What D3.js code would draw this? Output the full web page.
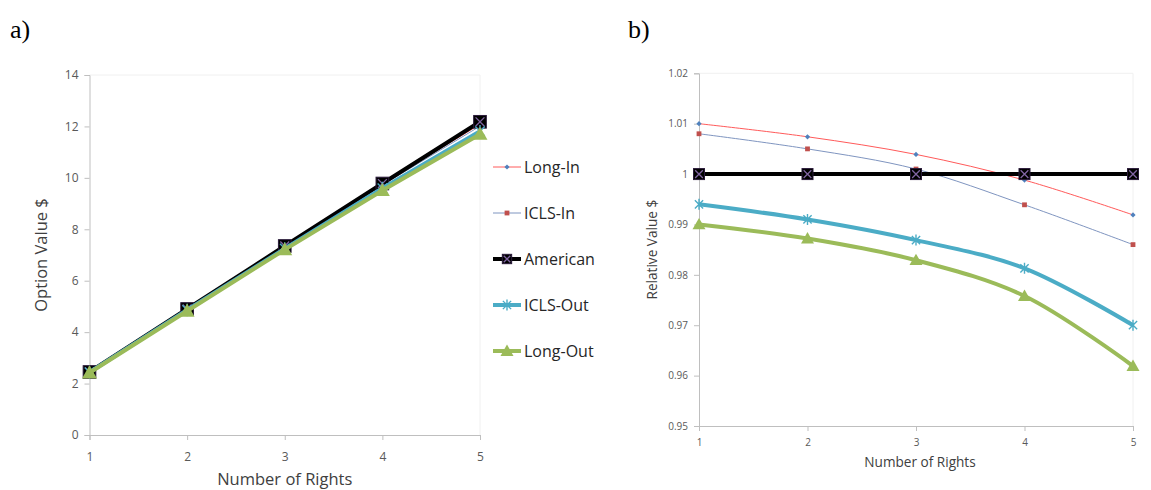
<!DOCTYPE html>
<html>
<head>
<meta charset="utf-8">
<script src="https://cdn.jsdelivr.net/npm/d3@7"></script>
<style>
  body { margin: 0; background: #fff; }
  svg { display: block; }
  text { font-family: "Open Sans", "Liberation Sans", sans-serif; }
</style>
</head>
<body>
<svg id="chart" width="1151" height="490"></svg>
<script>
// Number of exercise rights
const rights = [1, 2, 3, 4, 5];

// a) Option value ($)
const valLongIn   = [2.47, 4.94, 7.38, 9.77, 12.08];
const valIclsIn   = [2.47, 4.92, 7.36, 9.72, 12.01];
const valAmerican = [2.45, 4.90, 7.35, 9.78, 12.18];
const valIclsOut  = [2.44, 4.86, 7.25, 9.60, 11.81];
const valLongOut  = [2.42, 4.82, 7.21, 9.51, 11.70];

// b) Value relative to the American option
const relLongIn   = [1.010, 1.0074, 1.0039, 0.9988, 0.9919];
const relIclsIn   = [1.008, 1.0050, 1.0010, 0.9939, 0.9860];
const relAmerican = [1.000, 1.000, 1.000, 1.000, 1.000];
const relIclsOut  = [0.994, 0.991, 0.9869, 0.9813, 0.970];
const relLongOut  = [0.990, 0.9872, 0.9829, 0.9758, 0.9619];

const seriesNames = ["Long-In", "ICLS-In", "American", "ICLS-Out", "Long-Out"];
const ticksA = [0, 2, 4, 6, 8, 10, 12, 14];
const ticksB = [0.95, 0.96, 0.97, 0.98, 0.99, 1, 1.01, 1.02];
const tickLabelsB = ["0.95", "0.96", "0.97", "0.98", "0.99", "1", "1.01", "1.02"];

const styles = {
  "Long-In":  { line: "#ff5a5a", width: 1, marker: "diamond", mfill: "#4f81bd" },
  "ICLS-In":  { line: "#7f95c0", width: 1, marker: "square",  mfill: "#c0504d" },
  "American": { line: "#000000", width: 4, marker: "boxx",    mfill: "#000000" },
  "ICLS-Out": { line: "#4bacc6", width: 4, marker: "star",    mfill: "#4bacc6" },
  "Long-Out": { line: "#9bbb59", width: 4, marker: "triangle",mfill: "#9bbb59" }
};

const svg = d3.select("#chart");

function drawMarker(g, type, x, y, s, scale) {
  const k = scale || 1;
  if (type === "diamond") {
    const r = 2.6 * k;
    g.append("path").attr("d", `M${x},${y - r}L${x + r},${y}L${x},${y + r}L${x - r},${y}Z`)
      .attr("fill", s.mfill);
  } else if (type === "square") {
    const r = 2.4 * k;
    g.append("rect").attr("x", x - r).attr("y", y - r).attr("width", 2 * r).attr("height", 2 * r)
      .attr("fill", s.mfill);
  } else if (type === "boxx") {
    const r = 5.5 * k;
    g.append("rect").attr("x", x - r).attr("y", y - r).attr("width", 2 * r).attr("height", 2 * r)
      .attr("fill", "#000").attr("stroke", "#2a1a3a").attr("stroke-width", 1);
    const q = r * 0.7;
    g.append("path").attr("d", `M${x - q},${y - q}L${x + q},${y + q}M${x + q},${y - q}L${x - q},${y + q}`)
      .attr("stroke", "#8064a2").attr("stroke-width", 1.3);
  } else if (type === "star") {
    const r = 5.5 * k;
    const q = r * 0.75;
    g.append("path").attr("d",
      `M${x},${y - r}L${x},${y + r}M${x - q},${y - q}L${x + q},${y + q}M${x + q},${y - q}L${x - q},${y + q}`)
      .attr("stroke", s.mfill).attr("stroke-width", 1.4).attr("fill", "none");
  } else if (type === "triangle") {
    const r = 6.5 * k;
    g.append("path").attr("d", `M${x},${y - r}L${x + r},${y + r * 0.75}L${x - r},${y + r * 0.75}Z`)
      .attr("fill", s.mfill);
  }
}

function panel(opts) {
  const { x0, x1, y0, y1, domain, ticks, tickLabels, data, curve, fontSize, yTitle, xTitle,
          yTitleX, xTitleY, xTitleShift, tickLabelY, markerScale } = opts;
  const g = svg.append("g");
  const x = d3.scaleLinear().domain([1, 5]).range([x0, x1]);
  const y = d3.scaleLinear().domain(domain).range([y1, y0]);

  // faint plot-area frame
  g.append("path").attr("d", `M${x0},${y0}H${x1}V${y1}`)
    .attr("fill", "none").attr("stroke", "#f0f0f0").attr("stroke-width", 1);

  // y axis
  const ya = d3.axisLeft(y).tickValues(ticks).tickSize(5).tickPadding(6)
    .tickFormat((d, i) => tickLabels ? tickLabels[i] : d);
  const yg = g.append("g").attr("transform", `translate(${x0},0)`).call(ya);
  yg.select(".domain").attr("stroke", "#bfbfbf");
  yg.selectAll(".tick line").attr("stroke", "#bfbfbf");
  yg.selectAll(".tick text").attr("fill", "#595959").style("font-size", fontSize + "px")
    .style("font-family", '"Open Sans", sans-serif');

  // x axis
  const xa = d3.axisBottom(x).tickValues(rights).tickFormat(d3.format("d"))
    .tickSize(5).tickPadding(tickLabelY);
  const xg = g.append("g").attr("transform", `translate(0,${y1})`).call(xa);
  xg.select(".domain").attr("stroke", "#bfbfbf");
  xg.selectAll(".tick line").attr("stroke", "#bfbfbf");
  xg.selectAll(".tick text").attr("fill", "#595959").style("font-size", fontSize + "px")
    .style("font-family", '"Open Sans", sans-serif');

  // titles
  g.append("text").attr("x", (x0 + x1) / 2 + xTitleShift).attr("y", xTitleY).attr("text-anchor", "middle")
    .attr("fill", "#404040").style("font-size", opts.titleSize + "px").text(xTitle);
  g.append("text").attr("transform", `translate(${yTitleX},${(y0 + y1) / 2}) rotate(-90)`)
    .attr("text-anchor", "middle").attr("fill", "#404040").style("font-size", opts.titleSize + "px")
    .text(yTitle);

  // series
  const line = d3.line().x((d, i) => x(rights[i])).y(d => y(d)).curve(curve);
  seriesNames.forEach((name, si) => {
    const s = styles[name];
    const vals = data[si];
    const sg = g.append("g");
    sg.append("path").attr("d", line(vals)).attr("fill", "none")
      .attr("stroke", s.line).attr("stroke-width", s.width).attr("stroke-linejoin", "round");
    vals.forEach((v, i) => drawMarker(sg, s.marker, x(rights[i]), y(v), s, markerScale));
  });
  return g;
}

// panel a)
panel({
  x0: 89.5, x1: 480, y0: 75, y1: 435, domain: [0, 14], ticks: ticksA, tickLabels: null,
  data: [valLongIn, valIclsIn, valAmerican, valIclsOut, valLongOut],
  curve: d3.curveLinear, fontSize: 12, titleSize: 16.5,
  yTitle: "Option Value $", xTitle: "Number of Rights", yTitleX: 47, xTitleY: 485, xTitleShift: 0,
  tickLabelY: 12, markerScale: 1.15
});

// panel b)
panel({
  x0: 699, x1: 1133, y0: 73.3, y1: 426, domain: [0.95, 1.02], ticks: ticksB, tickLabels: tickLabelsB,
  data: [relLongIn, relIclsIn, relAmerican, relIclsOut, relLongOut],
  curve: d3.curveCatmullRom.alpha(0.5), fontSize: 10, titleSize: 13.6,
  yTitle: "Relative Value $", xTitle: "Number of Rights", yTitleX: 657, xTitleY: 467, xTitleShift: 4,
  tickLabelY: 8, markerScale: 1
});

// legend
const legend = svg.append("g");
const legendY = d3.scaleLinear().domain([0, 4]).range([167, 351]);
seriesNames.forEach((name, i) => {
  const s = styles[name];
  const yy = legendY(i);
  legend.append("line").attr("x1", 493).attr("x2", 521).attr("y1", yy).attr("y2", yy)
    .attr("stroke", s.line).attr("stroke-width", s.width);
  drawMarker(legend, s.marker, 507, yy, s, s.marker === "boxx" ? 0.85 : 1);
  legend.append("text").attr("x", 524).attr("y", yy).attr("dy", "0.36em")
    .attr("fill", "#262626").style("font-size", "16px").text(name);
});

// panel letters
svg.append("text").attr("x", 10).attr("y", 38).style("font-family", '"Liberation Serif", serif')
  .style("font-size", "26px").attr("fill", "#000").text("a)");
svg.append("text").attr("x", 628).attr("y", 38).style("font-family", '"Liberation Serif", serif')
  .style("font-size", "26px").attr("fill", "#000").text("b)");
</script>
</body>
</html>
